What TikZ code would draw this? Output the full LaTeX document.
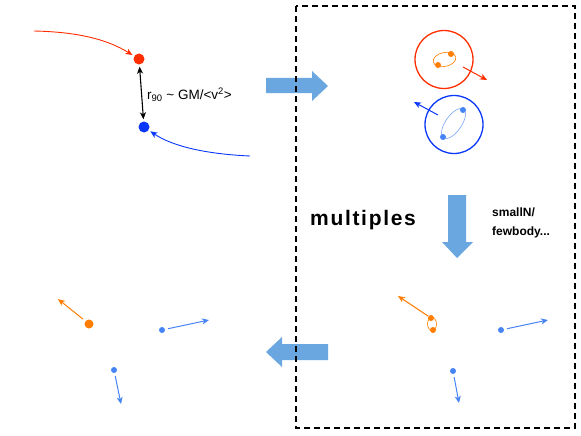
\documentclass[tikz,border=0pt]{standalone}
\usepackage{fontspec}
\setmainfont{Liberation Sans}
\usepackage{xcolor}
\usepackage{tikz}
\usetikzlibrary{arrows.meta,positioning,calc}

\definecolor{starred}{RGB}{255,45,0}
\definecolor{starblue}{RGB}{10,55,250}
\definecolor{lightstar}{RGB}{70,132,245}
\definecolor{paleorbit}{RGB}{120,165,245}
\definecolor{starorange}{RGB}{255,125,0}
\definecolor{bigarrow}{RGB}{106,166,224}

\tikzset{
  dot/.style={circle, fill, inner sep=0pt, minimum size=#1},
  dot/.default=6pt,
  kick/.style={-{Stealth[length=7pt,width=6pt,inset=2pt]}, line width=1pt},
  orbit/.style={line width=0.6pt},
  blockarrow/.style={fill=bigarrow, draw=none}
}

\begin{document}
\begin{tikzpicture}[x=1pt,y=-1pt]
  \useasboundingbox (0,0) rectangle (581,436);

  % incoming pair
  \node[dot=11pt, starred] (red) at (139,59) {};
  \node[dot=11pt, starblue] (blue) at (144,127) {};
  \coordinate (redin) at (34,31);
  \coordinate (bluein) at (250,156);
  \draw[kick, starred, line width=0.9pt, shorten >=2pt] (redin) .. controls (80,32) and (108,40) .. (red);
  \draw[kick, starblue, line width=0.9pt, shorten >=2pt] (bluein) .. controls (205,154) and (172,146) .. (blue);
  \draw[{Stealth[length=7pt,width=6pt,inset=2pt]}-{Stealth[length=7pt,width=6pt,inset=2pt]}, line width=1.1pt, shorten <=2pt, shorten >=2pt] (red) -- (blue);
  \node[anchor=west, font=\fontsize{13.5}{15}\selectfont, inner sep=0pt] (rninety) at (147,95) {r\textsubscript{90} \textasciitilde{} GM/<v\textsuperscript{2}>};

  % block arrows
  \fill[blockarrow] (266,78) -- (312,78) -- (312,71) -- (328,86) -- (312,101) -- (312,93) -- (266,93) -- cycle;
  \fill[blockarrow] (448,195) -- (466,195) -- (466,242) -- (473,242) -- (457,258) -- (442,242) -- (448,242) -- cycle;
  \fill[blockarrow] (328,344) -- (282,344) -- (282,337) -- (266,352) -- (282,367) -- (282,360) -- (328,360) -- cycle;

  % two binaries
  \draw[starred, line width=1.3pt] (444,59.5) circle[radius=29];
  \draw[starorange, orbit] (444.5,59.5) ellipse[x radius=11.5, y radius=7, rotate=12];
  \node[dot=6pt, starorange] (oa) at (451,54) {};
  \node[dot=6pt, starorange] (ob) at (438,65) {};
  \coordinate (redkick) at (463,67);
  \coordinate (redout) at (487,80);
  \draw[kick, starred] (redkick) -- (redout);

  \draw[starblue, line width=1.3pt] (454,124.5) circle[radius=29];
  \draw[paleorbit, orbit] (453.5,123.5) ellipse[x radius=17.5, y radius=8, rotate=55];
  \node[dot=6pt, lightstar] (ba) at (463,110) {};
  \node[dot=6pt, lightstar] (bb) at (443,137) {};
  \coordinate (bluekick) at (438,115);
  \coordinate (blueout) at (414,102);
  \draw[kick, starblue] (bluekick) -- (blueout);

  % labels
  \node[anchor=west, inner sep=0pt, font=\bfseries\fontsize{21}{23}\selectfont\addfontfeature{LetterSpace=8}] (mult) at (310,220) {multiples};
  \node[anchor=north west, inner sep=0pt, align=left, font=\bfseries\fontsize{12}{19}\selectfont] (fewb) at (492,208) {smallN/\\fewbody...};

  % outcome inside the box
  \draw[starorange, orbit] (432,324) ellipse[x radius=4.5, y radius=6.5];
  \node[dot=6pt, starorange] (pa) at (431,318) {};
  \node[dot=6pt, starorange] (pb) at (433,330) {};
  \coordinate (pout) at (398,296);
  \draw[kick, starorange] (pa) -- (pout);
  \node[dot=6pt, lightstar] (sa) at (501,330) {};
  \coordinate (saout) at (548,320);
  \draw[kick, lightstar, shorten <=3pt] (sa) -- (saout);
  \node[dot=6pt, lightstar] (sb) at (453,371) {};
  \coordinate (sbout) at (459,403);
  \draw[kick, lightstar, shorten <=3pt] (sb) -- (sbout);

  % outcome on the left
  \node[dot=9pt, starorange] (fa) at (89,324) {};
  \coordinate (faout) at (58,299);
  \draw[kick, starorange, shorten <=3pt] (fa) -- (faout);
  \node[dot=6pt, lightstar] (fb) at (162,330) {};
  \coordinate (fbout) at (209,320);
  \draw[kick, lightstar, shorten <=3pt] (fb) -- (fbout);
  \node[dot=6pt, lightstar] (fc) at (114,370) {};
  \coordinate (fcout) at (121,404);
  \draw[kick, lightstar, shorten <=3pt] (fc) -- (fcout);

  % the dashed box
  \draw[line width=1.6pt, dash pattern=on 6pt off 4pt] (296,6) rectangle (575,428);
\end{tikzpicture}
\end{document}
